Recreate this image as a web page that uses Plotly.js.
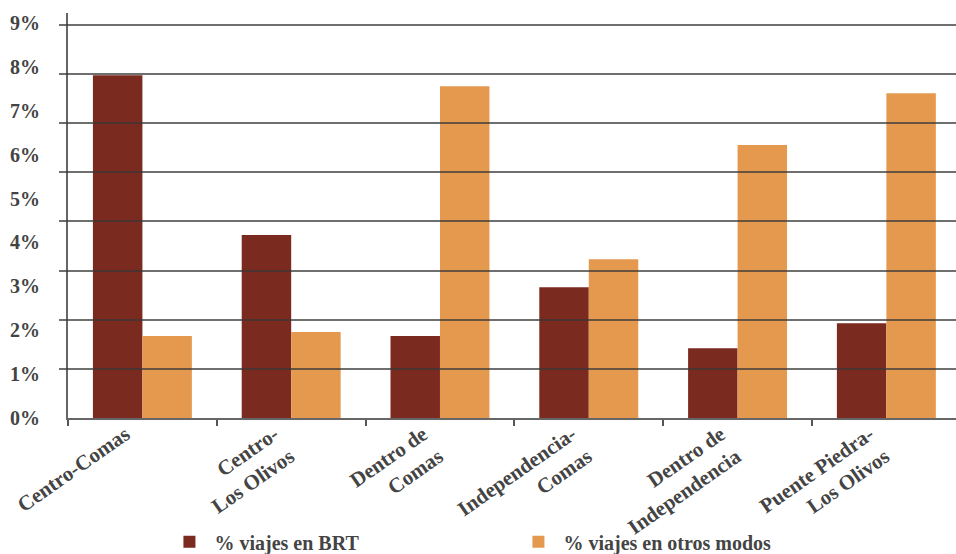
<!DOCTYPE html>
<html>
<head>
<meta charset="utf-8">
<script src="https://cdn.plot.ly/plotly-3.0.1.min.js"></script>
<style>html,body{margin:0;padding:0;background:#fff;}#chart{width:956px;height:554px;}</style>
</head>
<body>
<div id="chart"></div>
<script>
var categories = ['Centro-Comas', 'Centro-<br>Los Olivos', 'Dentro de<br>Comas', 'Independencia-<br>Comas', 'Dentro de<br>Independencia', 'Puente Piedra-<br>Los Olivos'];
var brtValues = [7.81, 4.17, 1.87, 2.98, 1.59, 2.16];
var otherValues = [1.87, 1.96, 7.56, 3.62, 6.22, 7.40];
var seriesNames = ['% viajes en BRT', '% viajes en otros modos'];
var yTickValues = [0, 1, 2, 3, 4, 5, 6, 7, 8, 9];
var yTickLabels = ['0%', '1%', '2%', '3%', '4%', '5%', '6%', '7%', '8%', '9%'];
var gridValues = [0, 1, 2, 3, 4, 5, 6, 7, 8];

var serif = 'Liberation Serif';
var textFont = {family: serif, size: 20, color: '#444444', weight: 'bold'};

var data = [
  {type: 'bar', name: seriesNames[0], x: categories, y: brtValues, marker: {color: '#7b2a1f'}, hoverinfo: 'skip'},
  {type: 'bar', name: seriesNames[1], x: categories, y: otherValues, marker: {color: '#e5994f'}, hoverinfo: 'skip'},
  {type: 'scatter', mode: 'markers', x: categories, y: categories.map(function(){return 0;}), yaxis: 'y2',
   marker: {opacity: 0}, showlegend: false, hoverinfo: 'skip'}
];

var layout = {
  width: 956, height: 554,
  margin: {l: 58, r: 0, t: 13, b: 136},
  paper_bgcolor: '#ffffff', plot_bgcolor: '#ffffff',
  barmode: 'group', bargap: 0.335, bargroupgap: 0,
  showlegend: true,
  font: textFont,
  xaxis: {
    type: 'category', domain: [10/898, 1], range: [-0.5, 5.468],
    showgrid: false, zeroline: false,
    showline: true, linecolor: '#666666', linewidth: 2,
    ticks: 'outside', tickson: 'boundaries', ticklen: 6, tickwidth: 2, tickcolor: '#555555',
    tickangle: -35, ticklabelshift: -17, ticklabelstandoff: -6,
    tickfont: {family: serif, size: 21, color: '#444444', weight: 'bold'}
  },
  yaxis: {
    range: [0, 9.23], tickvals: yTickValues, ticktext: yTickLabels,
    showgrid: false, zeroline: false,
    showline: true, linecolor: '#666666', linewidth: 2,
    ticks: '', ticklabelstandoff: 22,
    tickfont: textFont
  },
  yaxis2: {
    overlaying: 'y', anchor: 'free', position: 0, side: 'left',
    range: [0, 8.24], tickvals: gridValues,
    showgrid: false, zeroline: false, showline: false, showticklabels: false,
    ticks: 'inside', ticklen: 898, tickwidth: 2, tickcolor: 'rgba(55,55,55,0.72)',
    layer: 'above traces'
  },
  legend: {
    orientation: 'h', xref: 'container', yref: 'container',
    x: 0.172, xanchor: 'left', y: 0.022, yanchor: 'middle',
    itemwidth: 40,
    entrywidth: 294, entrywidthmode: 'pixels',
    font: textFont, bgcolor: 'rgba(0,0,0,0)'
  }
};

Plotly.newPlot('chart', data, layout, {displayModeBar: false, staticPlot: true});
</script>
</body>
</html>
